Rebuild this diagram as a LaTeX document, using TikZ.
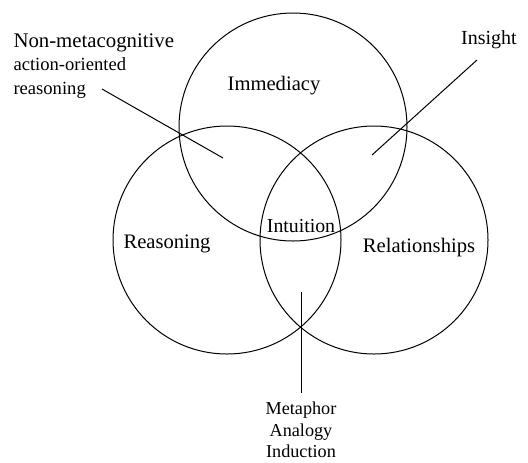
\documentclass[tikz,border=0pt]{standalone}
\usepackage{fontspec}
\setmainfont{Liberation Serif}
\usetikzlibrary{positioning}

\begin{document}
\begin{tikzpicture}[x=0.5pt,y=-0.5pt,line width=0.5pt,every node/.style={align=center,inner sep=0pt},ring/.style={draw,circle,minimum size=114pt},lbl/.style={font=\fontsize{10.3}{12}\selectfont}]
\useasboundingbox (0,0) rectangle (528,462);
\node[ring](imm) at (293,127) {};
\node[ring](rea) at (227,240) {};
\node[ring](rel) at (374,240) {};
\node[lbl](immlabel) at (274,86) {Immediacy};
\node[lbl](realabel) at (167,244) {Reasoning};
\node[lbl](rellabel) at (419,248) {Relationships};
\node[lbl,font=\fontsize{9.9}{12}\selectfont](intlabel) at (301,226) {Intuition};
\node[lbl,font=\fontsize{10}{12}\selectfont](inslabel) at (489,40) {Insight};
\node[align=left,anchor=west,font=\fontsize{9.3}{11.75}\selectfont](nonlabel) at (13,66) {{\fontsize{10.4}{11.75}\selectfont Non-metacognitive}\\action-oriented\\reasoning};
\node[font=\fontsize{9.1}{10.8}\selectfont](metlabel) at (301,430) {Metaphor\\Analogy\\Induction};
\coordinate (nonA) at (102,89);
\coordinate (nonB) at (223,158);
\coordinate (insA) at (477,60);
\coordinate (insB) at (372,155);
\coordinate (metA) at (301,292);
\coordinate (metB) at (301,393);
\draw (nonA) -- (nonB);
\draw (insA) -- (insB);
\draw (metA) -- (metB);
\end{tikzpicture}
\end{document}
